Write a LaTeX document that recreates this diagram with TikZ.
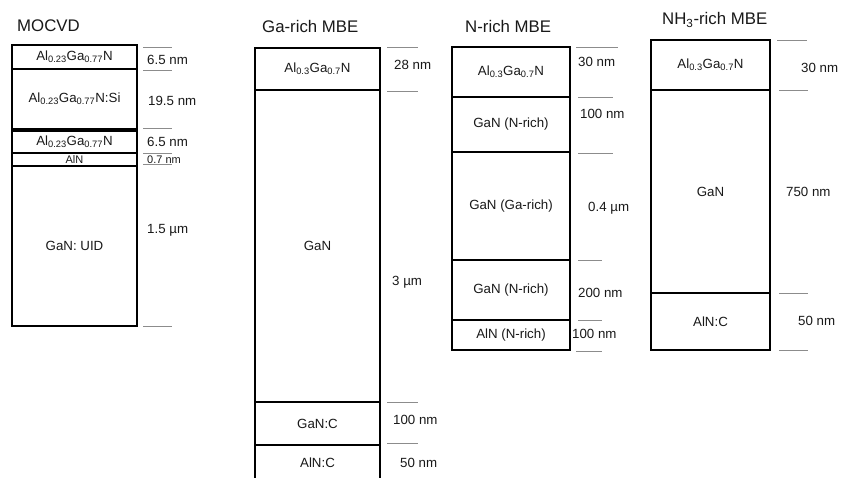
\documentclass[tikz,border=0pt]{standalone}
\usepackage{fontspec}
\setmainfont{Liberation Sans}
\begin{document}
\begin{tikzpicture}[x=1pt,y=-1pt,
  layer/.style={draw=black, line width=2.9pt, rectangle, inner sep=0pt, outer sep=0pt, font=\fontsize{13.3}{15}\selectfont, text=black!90},
  tickline/.style={draw=black!45, line width=1pt},
  thick lbl/.style={anchor=west, inner sep=0pt, font=\fontsize{13.3}{15}\selectfont, text=black!90},
  title/.style={anchor=west, inner sep=0pt, font=\fontsize{16.8}{19}\selectfont, text=black!90}]
\useasboundingbox (0,0) rectangle (841,477);
\clip (0,0) rectangle (841,477);
\fill[white] (0,0) rectangle (841,477);
\newcommand{\lay}[6]{% name, x1, x2, y1, y2, text
  \node[layer, minimum width={#3-#2}, minimum height={#5-#4}] (#1) at ({(#2+#3)/2},{(#4+#5)/2}) {#6};}
\newcommand{\tk}[3]{\draw[tickline] (#1,#3) -- (#2,#3);}

% ---------- MOCVD ----------
\node[title] (t1) at (17,26) {MOCVD};
\lay{m1}{12}{137}{45}{69}{Al\textsubscript{0.23}Ga\textsubscript{0.77}N}
\lay{m2}{12}{137}{69}{129}{Al\textsubscript{0.23}Ga\textsubscript{0.77}N:Si}
\lay{m3}{12}{137}{131}{153}{Al\textsubscript{0.23}Ga\textsubscript{0.77}N}
\node[layer, minimum width=125, minimum height=13, font=\fontsize{11}{11}\selectfont] (m4) at (74.5,159.5) {AlN};
\lay{m5}{12}{137}{166}{326}{GaN: UID}
\tk{143}{172}{47}\tk{143}{172}{70}\tk{143}{172}{128}\tk{143}{172}{153}\tk{143}{172}{164}\tk{143}{172}{326}
\node[thick lbl] (ml1) at (147,60) {6.5 nm};
\node[thick lbl] (ml2) at (148,101) {19.5 nm};
\node[thick lbl] (ml3) at (147,142) {6.5 nm};
\node[thick lbl, font=\fontsize{11}{11}\selectfont] (ml4) at (147,160) {0.7 nm};
\node[thick lbl] (ml5) at (147,230) {1.5 µm};

% ---------- Ga-rich MBE ----------
\node[title] (t2) at (262,26) {Ga-rich MBE};
\lay{g1}{255}{380}{48}{90}{Al\textsubscript{0.3}Ga\textsubscript{0.7}N}
\lay{g2}{255}{380}{90}{402}{GaN}
\lay{g3}{255}{380}{402}{445}{GaN:C}
\draw[draw=black, line width=2.9pt] (255,495) |- (380,445) -- (380,495);
\node[anchor=center, inner sep=0pt, font=\fontsize{13.3}{15}\selectfont, text=black!90] (g4) at (317.5,463) {AlN:C};
\tk{387}{418}{47}\tk{387}{418}{91}\tk{387}{418}{402}\tk{387}{418}{443}
\node[thick lbl] (gl1) at (394,65) {28 nm};
\node[thick lbl] (gl2) at (392,282) {3 µm};
\node[thick lbl] (gl3) at (393,420) {100 nm};
\node[thick lbl] (gl4) at (400,463) {50 nm};

% ---------- N-rich MBE ----------
\node[title] (t3) at (465,26) {N-rich MBE};
\lay{n1}{452}{570}{47}{97}{Al\textsubscript{0.3}Ga\textsubscript{0.7}N}
\lay{n2}{452}{570}{97}{152}{GaN (N-rich)}
\lay{n3}{452}{570}{152}{260}{GaN (Ga-rich)}
\lay{n4}{452}{570}{260}{320}{GaN (N-rich)}
\lay{n5}{452}{570}{320}{350}{AlN (N-rich)}
\tk{576}{618}{47}\tk{578}{613}{97}\tk{578}{613}{153}\tk{578}{602}{260}\tk{578}{602}{320}\tk{576}{602}{351}
\node[thick lbl] (nl1) at (578,62) {30 nm};
\node[thick lbl] (nl2) at (580,114) {100 nm};
\node[thick lbl] (nl3) at (588,208) {0.4 µm};
\node[thick lbl] (nl4) at (578,293) {200 nm};
\node[thick lbl] (nl5) at (572,334) {100 nm};

% ---------- NH3-rich MBE ----------
\node[title] (t4) at (662,20) {NH\textsubscript{3}-rich MBE};
\lay{h1}{651}{770}{40}{90}{Al\textsubscript{0.3}Ga\textsubscript{0.7}N}
\lay{h2}{651}{770}{90}{293}{GaN}
\lay{h3}{651}{770}{293}{350}{AlN:C}
\tk{777}{807}{40}\tk{779}{808}{90}\tk{779}{808}{293}\tk{779}{808}{350}
\node[thick lbl] (hl1) at (801,68) {30 nm};
\node[thick lbl] (hl2) at (786,192) {750 nm};
\node[thick lbl] (hl3) at (798,321) {50 nm};
\end{tikzpicture}
\end{document}
